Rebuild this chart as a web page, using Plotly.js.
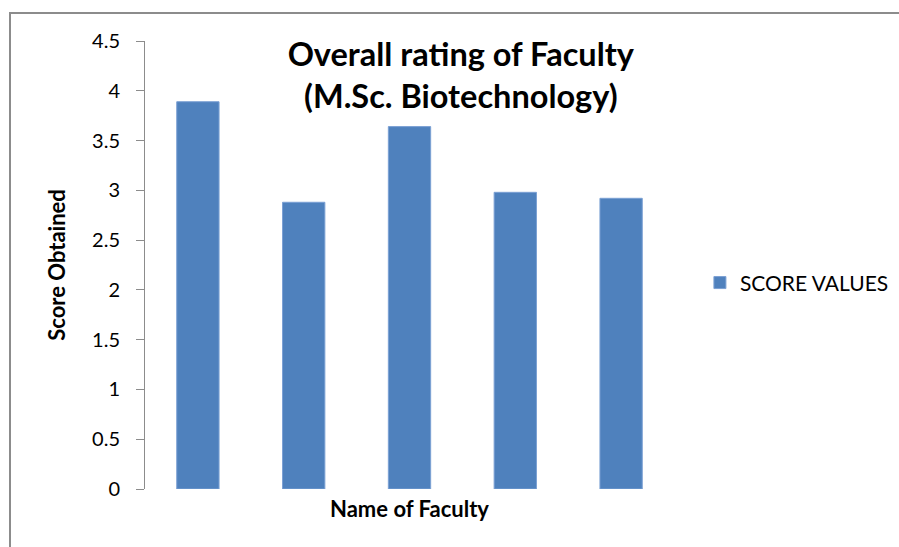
<!DOCTYPE html>
<html>
<head>
<meta charset="utf-8">
<script src="https://cdn.plot.ly/plotly-3.0.1.min.js"></script>
<style>
  body { margin: 0; background: #fff; }
  #wrap { position: relative; width: 899px; height: 547px; overflow: hidden; }
  #chart { width: 899px; height: 547px; }
  #frame {
    position: absolute; left: 9px; top: 12px; width: 1000px; height: 1000px;
    border-left: 2px solid #8c8c8c; border-top: 2px solid #8c8c8c; pointer-events: none;
  }
</style>
</head>
<body>
<div id="wrap">
  <div id="chart"></div>
  <div id="frame"></div>
</div>
<script>
// faculty names are not shown on the chart, only positions
const faculty = ['F1', 'F2', 'F3', 'F4', 'F5'];
const scores = [3.89, 2.88, 3.64, 2.98, 2.92];
const yTicks = [0, 0.5, 1, 1.5, 2, 2.5, 3, 3.5, 4, 4.5];

const fontFam = 'Lato, "Open Sans", sans-serif';

const trace = {
  type: 'bar',
  x: faculty,
  y: scores,
  name: 'SCORE VALUES',
  marker: { color: '#4f81bd', line: { color: '#7ba0d4', width: 1 } },
  hoverinfo: 'y'
};

const layout = {
  width: 899,
  height: 547,
  paper_bgcolor: '#fff',
  plot_bgcolor: '#fff',
  font: { family: fontFam, color: '#000', size: 17 },
  margin: { l: 145, r: 225, t: 41, b: 58, autoexpand: false },
  bargap: 0.6,
  title: {
    text: '<b>Overall rating of Faculty<br>(M.Sc. Biotechnology)</b>',
    font: { size: 32.5, family: fontFam },
    x: 0.597, xref: 'paper', xanchor: 'center',
    y: 1 - 66 / 547, yref: 'container', yanchor: 'top'
  },
  xaxis: {
    showticklabels: false,
    showline: false,
    ticks: '',
    showgrid: false,
    zeroline: false,
    title: { text: '<b>Name of Faculty</b>', font: { size: 22 }, standoff: 12 }
  },
  yaxis: {
    range: [0, 4.5],
    tickvals: yTicks,
    ticktext: yTicks.map(String),
    showline: true,
    linecolor: '#8c8c8c',
    linewidth: 1,
    ticks: 'outside',
    ticklen: 8,
    tickcolor: '#8c8c8c',
    ticklabelstandoff: 12,
    showgrid: false,
    zeroline: false,
    tickfont: { size: 20 },
    title: { text: '<b>Score Obtained</b>', font: { size: 22 }, standoff: 20 }
  },
  showlegend: true,
  legend: {
    x: 1.049, xanchor: 'left',
    y: 0.46, yanchor: 'middle',
    font: { size: 21 },
    itemwidth: 30
  }
};

Plotly.newPlot('chart', [trace], layout, { displayModeBar: false, staticPlot: true });
</script>
</body>
</html>
